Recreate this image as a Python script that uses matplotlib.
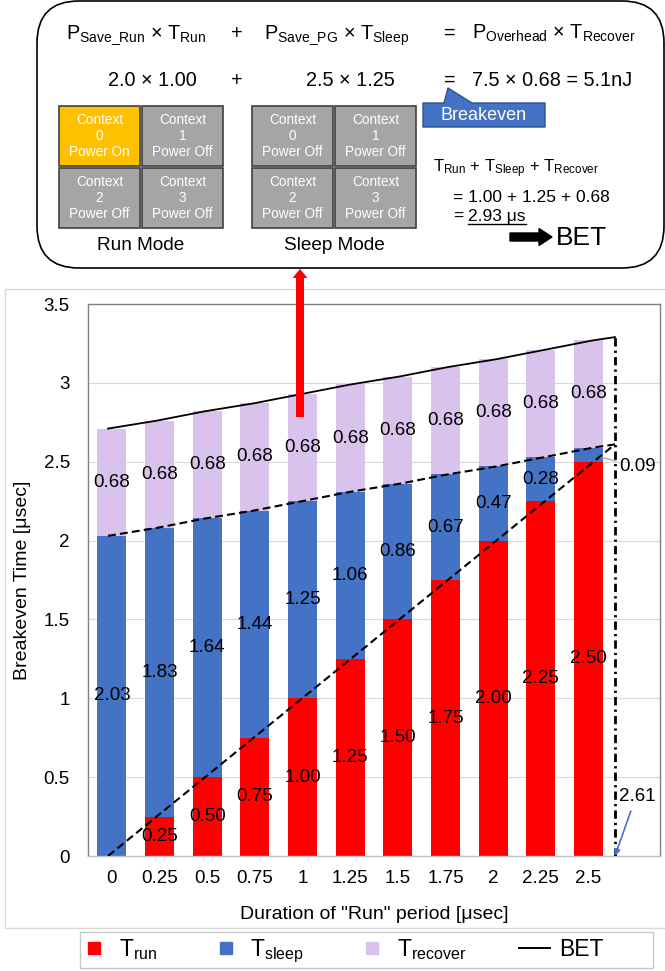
import numpy as np
import matplotlib
matplotlib.use('Agg')
import matplotlib.pyplot as plt
from matplotlib.lines import Line2D
from matplotlib.patches import FancyBboxPatch, Rectangle, Polygon, FancyArrow
from matplotlib.ticker import FuncFormatter

plt.rcParams['font.family'] = ['Liberation Sans', 'DejaVu Sans']
plt.rcParams['mathtext.fontset'] = 'custom'
plt.rcParams['mathtext.rm'] = 'Liberation Sans'
plt.rcParams['mathtext.it'] = 'Liberation Sans:italic'
plt.rcParams['mathtext.bf'] = 'Liberation Sans:bold'

# breakeven time components per "Run" duration [usec]
t_run = [0.0, 0.25, 0.5, 0.75, 1.0, 1.25, 1.5, 1.75, 2.0, 2.25, 2.5]
t_sleep = [2.03, 1.83, 1.64, 1.44, 1.25, 1.06, 0.86, 0.67, 0.47, 0.28, 0.09]
t_recover = [0.68, 0.68, 0.68, 0.68, 0.68, 0.68, 0.68, 0.68, 0.68, 0.68, 0.68]
run_ticks = ['0', '0.25', '0.5', '0.75', '1', '1.25', '1.5', '1.75', '2', '2.25', '2.5', '']
bet_run = 2.61      # run time at which sleep time drops to zero
step = 0.25

# power savings used in the worked example (column for T_run = 1.00)
p_save_run = 2.0
p_save_pg = 2.5
p_overhead = 7.5
sel = 4

RED, BLUE, LILAC = '#FF0000', '#4472C4', '#D9C2EC'

W, H = 665, 971
fig = plt.figure(figsize=(W / 100, H / 100), dpi=100)

# ---- stacked bar chart (category axis) ----
ax = fig.add_axes([88 / W, 1 - 856 / H, 572 / W, 552 / H])
run = np.array(t_run)
sleep = np.array(t_sleep)
rec = np.array(t_recover)
pos = run / step
bw = 0.61

b_run = ax.bar(pos, run, bw, color=RED, zorder=2)
b_sleep = ax.bar(pos, sleep, bw, bottom=run, color=BLUE, zorder=2)
b_rec = ax.bar(pos, rec, bw, bottom=run + sleep, color=LILAC, zorder=2)

lab_kw = dict(label_type='center', fontsize=13.5, zorder=5)
ax.bar_label(b_run, labels=[f'{v:.2f}' if v > 0 else '' for v in run], **lab_kw)
ax.bar_label(b_sleep, labels=[f'{v:.2f}' for v in sleep[:-1]] + [''], **lab_kw)
ax.bar_label(b_rec, labels=[f'{v:.2f}' for v in rec], **lab_kw)

# label for the thin last sleep segment
ax.annotate(f'{sleep[-1]:.2f}', xy=(pos[-1] + bw / 2 - 0.03, run[-1] + sleep[-1] * 0.3),
            xytext=(10.64, 2.47), ha='left', va='center', fontsize=13.5,
            arrowprops=dict(arrowstyle='-', color='#A6A6A6', lw=0.9, shrinkA=0, shrinkB=0))
ax.text(10.64, 0.38, f'{bet_run:.2f}', ha='left', va='center', fontsize=13.5)

ax.set_xlim(-0.5, 11.5)
ax.set_ylim(0, 3.5)
ax.set_xticks(np.arange(len(run_ticks)))
ax.set_xticklabels(run_ticks)
ax.set_yticks(np.arange(0, 3.51, 0.5))
ax.yaxis.set_major_formatter(FuncFormatter(lambda v, _: f'{v:g}'))
ax.tick_params(length=0, labelsize=13.5)
ax.tick_params(axis='y', pad=13)
ax.tick_params(axis='x', pad=10)
ax.grid(axis='y', color='#D9D9D9', lw=0.8)
ax.set_axisbelow(True)
for s in ax.spines.values():
    s.set_color('#808080')
    s.set_linewidth(1)
ax.spines['bottom'].set_color('#BFBFBF')
ax.set_xlabel('Duration of "Run" period [μsec]', fontsize=14, labelpad=14)
ax.set_ylabel('Breakeven Time [μsec]', fontsize=14, labelpad=9)

# ---- BET lines on a secondary value axis ----
ax2 = ax.twiny()
ax2.set_xlim(-0.103, 2.842)
ax2.set_ylim(0, 3.5)
ax2.axis('off')
line_x = np.append(run, bet_run)
dash = (0, (3.8, 2.0))
ax2.plot(line_x, np.append(run + sleep + rec, bet_run + rec[-1]), color='black', lw=1.3)
ax2.plot(line_x, np.append(run + sleep, bet_run), color='black', lw=1.5, ls=dash)
ax2.plot([0, bet_run], [0, bet_run], color='black', lw=1.5, ls=dash)
ax2.plot([bet_run, bet_run], [0, bet_run + rec[-1]], color='black', lw=2.0,
         ls=(0, (3.0, 1.5, 0.8, 1.5)))
ax2.annotate('', xy=(bet_run, 0), xytext=(2.692, 0.285),
             arrowprops=dict(arrowstyle='-|>', color=BLUE, lw=1.2, mutation_scale=9,
                             shrinkA=0, shrinkB=0))

handles = [Line2D([], [], marker='s', ls='none', color=RED, markersize=8.5),
           Line2D([], [], marker='s', ls='none', color=BLUE, markersize=8.5),
           Line2D([], [], marker='s', ls='none', color=LILAC, markersize=8.5),
           Line2D([], [], color='black', lw=1.4)]
labels = [r'$\mathrm{T_{run}}$', r'$\mathrm{T_{sleep}}$', r'$\mathrm{T_{recover}}$', 'BET']
fig.legend(handles, labels, loc='center left', bbox_to_anchor=(79 / W, 1 - 951 / H),
           ncol=4, fontsize=16.5, handlelength=1.35, handletextpad=0.4, columnspacing=2.3,
           frameon=False, borderpad=0, borderaxespad=0)

# ---- overlay in pixel units for the diagram above the chart ----
ov = fig.add_axes([0, 0, 1, 1])
ov.set_xlim(0, W)
ov.set_ylim(H, 0)
ov.axis('off')

ov.add_patch(Rectangle((5, 289), 665, 639, fill=False, ec='#D9D9D9', lw=1))
ov.add_patch(Rectangle((80, 932), 573, 36, fill=False, ec='#C8C8C8', lw=1))
ov.add_patch(FancyBboxPatch((37, 1), 627, 267, boxstyle='round,pad=0,rounding_size=42',
                            fc='white', ec='black', lw=1.2))

fs = 14.3
ov.text(66, 39, r'$\mathrm{P_{Save\_Run}}$ × $\mathrm{T_{Run}}$', fontsize=fs, va='baseline')
ov.text(237, 39, '+', fontsize=fs, va='baseline', ha='center')
ov.text(264, 39, r'$\mathrm{P_{Save\_PG}}$ × $\mathrm{T_{Sleep}}$', fontsize=fs, va='baseline')
ov.text(450, 39, '=', fontsize=fs, va='baseline', ha='center')
ov.text(472, 39, r'$\mathrm{P_{Overhead}}$ × $\mathrm{T_{Recover}}$', fontsize=fs, va='baseline')

e_total = p_overhead * t_recover[sel]
ov.text(108, 86, f'{p_save_run:.1f} × {t_run[sel]:.2f}', fontsize=fs, va='baseline')
ov.text(237, 86, '+', fontsize=fs, va='baseline', ha='center')
ov.text(306, 86, f'{p_save_pg:.1f} × {t_sleep[sel]:.2f}', fontsize=fs, va='baseline')
ov.text(450, 86, '=', fontsize=fs, va='baseline', ha='center')
ov.text(472, 86, f'{p_overhead:.1f} × {t_recover[sel]:.2f} = {e_total:.1f}nJ', fontsize=fs, va='baseline')

# "Breakeven" callout
ov.add_patch(Polygon([(423, 103), (444, 103), (448, 88), (472, 103), (545, 103), (545, 127), (423, 127)],
                     closed=True, fc=BLUE, ec='#2F528F', lw=1, joinstyle='round'))
ov.text(484, 116, 'Breakeven', color='white', fontsize=13, ha='center', va='center')

# context grids
cw, ch, gap = 81, 60, 2
grids = [(59, 'Run Mode', ['Power On', 'Power Off', 'Power Off', 'Power Off']),
         (252, 'Sleep Mode', ['Power Off', 'Power Off', 'Power Off', 'Power Off'])]
for gx, title, states in grids:
    for k, state in enumerate(states):
        cx = gx + (k % 2) * (cw + gap)
        cy = 106 + (k // 2) * (ch + gap)
        fc = '#FFC000' if state == 'Power On' else '#A5A5A5'
        ov.add_patch(Rectangle((cx, cy), cw, ch, fc=fc, ec='#404040', lw=1.2))
        ov.text(cx + cw / 2, cy + ch / 2, f'Context\n{k}\n{state}', color='white', fontsize=9.8,
                ha='center', va='center', linespacing=1.18)
    ov.text(gx + cw + gap / 2, 245, title, fontsize=13.7, ha='center', va='center')

ov.text(433, 172, r'$\mathrm{T_{Run}}$ + $\mathrm{T_{Sleep}}$ + $\mathrm{T_{Recover}}$',
        fontsize=12, va='baseline')
ov.text(453, 202, f'= {t_run[sel]:.2f} + {t_sleep[sel]:.2f} + {t_recover[sel]:.2f}',
        fontsize=12.5, va='baseline')
bet_total = t_run[sel] + t_sleep[sel] + t_recover[sel]
ov.text(453, 221, '=', fontsize=12.5, va='baseline')
tt = ov.text(468, 221, f'{bet_total:.2f} μs', fontsize=12.5, va='baseline')
rend = fig.canvas.get_renderer()
bb = tt.get_window_extent(rend).transformed(ov.transData.inverted())
ov.plot([bb.x0, bb.x1], [224, 224], color='black', lw=1)

ov.add_patch(FancyArrow(510, 237, 42, 0, width=8, head_width=17, head_length=13,
                        length_includes_head=True, color='black'))
ov.text(556, 238, 'BET', fontsize=19, va='center')

# arrow tying the worked example to the T_run = 1 column
ov.add_patch(FancyArrow(300, 417, 0, -148, width=8, head_width=15, head_length=9,
                        length_includes_head=True, fc=RED, ec='none', zorder=6))

fig.savefig('out.png', dpi=100)
